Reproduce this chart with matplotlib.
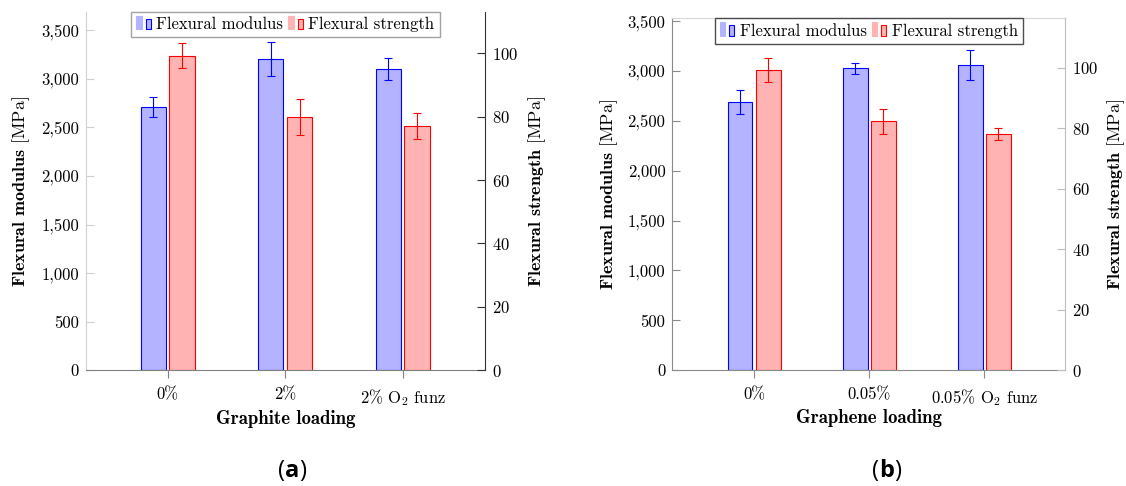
import numpy as np
import matplotlib
matplotlib.use('Agg')
import matplotlib.pyplot as plt
from matplotlib.patches import Rectangle
from matplotlib.legend_handler import HandlerBase
from matplotlib.ticker import FuncFormatter

plt.rcParams['font.family'] = 'cmr10'
plt.rcParams['mathtext.fontset'] = 'cm'
plt.rcParams['axes.formatter.use_mathtext'] = True
plt.rcParams['font.size'] = 12

# graphite panel
graphite_labels = ['0%', '2%', r'2% O$_2$ funz']
graphite_modulus = [2707, 3200, 3100]
graphite_modulus_err = [103, 175, 110]
graphite_strength = [99.2, 80.0, 77.0]
graphite_strength_err = [4.0, 5.7, 4.0]

# graphene panel
graphene_labels = ['0%', '0.05%', r'0.05% O$_2$ funz']
graphene_modulus = [2690, 3025, 3057]
graphene_modulus_err = [120, 58, 150]
graphene_strength = [99.3, 82.3, 78.0]
graphene_strength_err = [4.0, 4.2, 2.0]

BLUE_FILL = '#b3b3ff'
RED_FILL = '#ffb3b3'


class BarPairHandler(HandlerBase):
    # pgfplots-style ybar legend image: two little bars
    def create_artists(self, legend, orig_handle, xdescent, ydescent,
                       width, height, fontsize, trans):
        fc = orig_handle.get_facecolor()
        ec = orig_handle.get_edgecolor()
        w = width * 0.32
        r1 = Rectangle((-xdescent, -ydescent), w, height * 1.15,
                       facecolor=fc, edgecolor=fc, lw=0.8, transform=trans)
        r2 = Rectangle((-xdescent + width * 0.6, -ydescent), w, height * 0.9,
                       facecolor=fc, edgecolor=ec, lw=0.8, transform=trans)
        return [r1, r2]


def comma_fmt(v, pos):
    return f'{v:,.0f}'


def draw_panel(fig, rect, labels, modulus, modulus_err, strength, strength_err,
               xlabel, ylim_left, ylim_right, xlim, spine_colors, legend_edge,
               top_spine=None):
    ax = fig.add_axes(rect)
    ax2 = ax.twinx()
    x = np.arange(len(labels))
    w = 0.215
    off = 0.122

    b1 = ax.bar(x - off, modulus, w, color=BLUE_FILL, edgecolor='blue', linewidth=0.8,
                zorder=2)
    ax.errorbar(x - off, modulus, yerr=modulus_err, fmt='none', ecolor='blue',
                elinewidth=0.8, capsize=2.8, capthick=0.8, zorder=3)
    b2 = ax2.bar(x + off, strength, w, color=RED_FILL, edgecolor='red', linewidth=0.8,
                 zorder=2)
    ax2.errorbar(x + off, strength, yerr=strength_err, fmt='none', ecolor='red',
                 elinewidth=0.8, capsize=2.8, capthick=0.8, zorder=3)

    ax.set_xlim(*xlim)
    ax.set_ylim(*ylim_left)
    ax2.set_ylim(*ylim_right)
    ax.set_xticks(x)
    ax.set_xticklabels(labels)
    ax.set_yticks(np.arange(0, 3501, 500))
    ax.yaxis.set_major_formatter(FuncFormatter(comma_fmt))
    ax2.set_yticks(np.arange(0, 101, 20))

    left_c, bottom_c, right_c = spine_colors
    ax.spines['right'].set_visible(False)
    ax.spines['left'].set_color(left_c)
    ax.spines['bottom'].set_color(bottom_c)
    if top_spine:
        ax.spines['top'].set_color(top_spine)
    else:
        ax.spines['top'].set_visible(False)
    for s in ['top', 'left', 'bottom']:
        ax2.spines[s].set_visible(False)
    ax2.spines['right'].set_color(right_c)

    ax.tick_params(axis='y', direction='in', length=6, color=left_c, pad=5)
    ax.tick_params(axis='x', direction='out', length=6, color=bottom_c, pad=6)
    ax2.tick_params(axis='y', direction='in', length=6, color=right_c, pad=5)

    ax.set_xlabel(xlabel, fontfamily='cmb10', fontsize=13.5)
    ax.xaxis.set_label_coords(0.5, -0.135)
    ax.xaxis.label.set_va('center')
    ax.set_ylabel(r'$\mathbf{Flexural\ modulus}$ [MPa]', fontsize=13)
    ax.yaxis.set_label_coords(-0.162, 0.5)
    ax.yaxis.label.set_va('center')
    ax2.set_ylabel(r'$\mathbf{Flexural\ strength}$ [MPa]', fontsize=13)
    ax2.yaxis.set_label_coords(1.13, 0.5)
    ax2.yaxis.label.set_va('center')

    leg = ax2.legend([b1.patches[0], b2.patches[0]], ['Flexural modulus', 'Flexural strength'],
                     handler_map={Rectangle: BarPairHandler()},
                     loc='upper center', bbox_to_anchor=(0.5, 1.0), borderaxespad=0,
                     ncol=2, fancybox=False, handlelength=0.95, handleheight=0.7,
                     handletextpad=0.25, columnspacing=0.3, borderpad=0.3,
                     fontsize=12)
    leg.get_frame().set_edgecolor(legend_edge)
    leg.get_frame().set_linewidth(1.0)
    return ax, ax2


fig = plt.figure(figsize=(11.26, 4.86), dpi=100)

draw_panel(fig, [0.0764, 0.2381, 0.3543, 0.7378], graphite_labels,
           graphite_modulus, graphite_modulus_err, graphite_strength, graphite_strength_err,
           'Graphite loading', (0, 3691), (0, 113.1), (-0.695, 2.70),
           ('#d0d0d0', '#808080', '#333333'), '#8c8c8c')

ax_b, _ = draw_panel(fig, [0.5971, 0.2381, 0.3487, 0.7242], graphene_labels,
                     graphene_modulus, graphene_modulus_err, graphene_strength,
                     graphene_strength_err, 'Graphene loading', (0, 3527), (0, 116.3),
                     (-0.71, 2.70), ('#8a8a8a', '#8a8a8a', '#bdbdbd'), '#222222',
                     top_spine='#d8d8d8')

# sub-figure captions: "(" regular, letter bold, ")" regular
cap_font = 'Open Sans'
for cx, letter in [(278 / 1126, 'a'), (872 / 1126, 'b')]:
    cy = 1 - 471 / 486
    t = fig.text(cx, cy, '(', fontfamily=cap_font, fontsize=17, va='center', ha='left')
    a = ax_b.annotate(letter, xy=(1, 0), xycoords=t, va='bottom', ha='left',
                      fontfamily=cap_font, fontsize=17, fontweight='bold',
                      annotation_clip=False)
    ax_b.annotate(')', xy=(1, 0), xycoords=a, va='bottom', ha='left',
                  fontfamily=cap_font, fontsize=17, annotation_clip=False)

fig.savefig('out.png', dpi=100)
